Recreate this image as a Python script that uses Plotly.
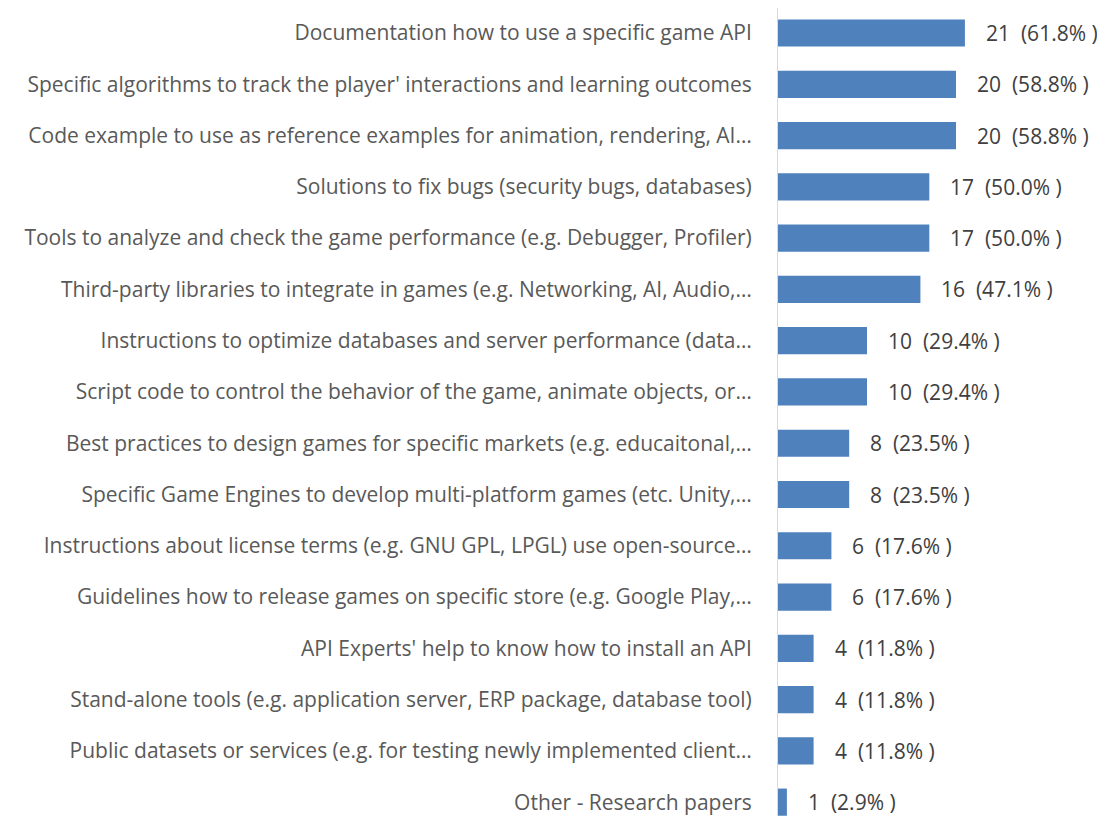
import plotly.graph_objects as go

categories = [
    "Documentation how to use a specific game API",
    "Specific algorithms to track the player' interactions and learning outcomes",
    "Code example to use as reference examples for animation, rendering, AI…",
    "Solutions to fix bugs (security bugs, databases)",
    "Tools to analyze and check the game performance (e.g. Debugger, Profiler)",
    "Third-party libraries to integrate in games (e.g. Networking, AI, Audio,…",
    "Instructions to optimize databases and server performance (data…",
    "Script code to control the behavior of the game, animate objects, or…",
    "Best practices to design games for specific markets (e.g. educaitonal,…",
    "Specific Game Engines to develop multi-platform games (etc. Unity,…",
    "Instructions about license terms (e.g. GNU GPL, LPGL) use open-source…",
    "Guidelines how to release games on specific store (e.g. Google Play,…",
    "API Experts' help to know how to install an API",
    "Stand-alone tools (e.g. application server, ERP package, database tool)",
    "Public datasets or services (e.g. for testing newly implemented client…",
    "Other - Research papers",
]
counts = [21, 20, 20, 17, 17, 16, 10, 10, 8, 8, 6, 6, 4, 4, 4, 1]
percents = [61.8, 58.8, 58.8, 50.0, 50.0, 47.1, 29.4, 29.4, 23.5, 23.5, 17.6, 17.6, 11.8, 11.8, 11.8, 2.9]

FONT = "Open Sans"
fig = go.Figure(go.Bar(
    x=counts,
    y=list(range(len(categories))),
    orientation="h",
    marker=dict(color="#4F81BD", line=dict(width=0)),
    width=0.53,
    hoverinfo="skip",
))

for i, (c, p) in enumerate(zip(counts, percents)):
    fig.add_annotation(
        x=c, y=i, text=f"{c}  ({p:.1f}% )", showarrow=False,
        xanchor="left", xshift=19,
        font=dict(family=FONT, size=21, color="#404040"),
    )

# page body has an 8px margin, so the figure is sized to the visible area
fig.update_layout(
    width=1097, height=808,
    paper_bgcolor="white", plot_bgcolor="white",
    margin=dict(l=770, r=0, t=0, b=0),
    showlegend=False,
    font=dict(family=FONT, size=21, color="#595959"),
    xaxis=dict(range=[0, 36.74], showgrid=False, zeroline=False,
               showticklabels=False, ticks=""),
    yaxis=dict(
        range=[15.27, -0.488], tickmode="array",
        tickvals=list(range(len(categories))), ticktext=categories,
        showgrid=False, zeroline=False, showline=True, linecolor="#D9D9D9",
        linewidth=1, ticks="", ticklabelstandoff=21, automargin=False,
    ),
)

fig.write_html("out.html")
